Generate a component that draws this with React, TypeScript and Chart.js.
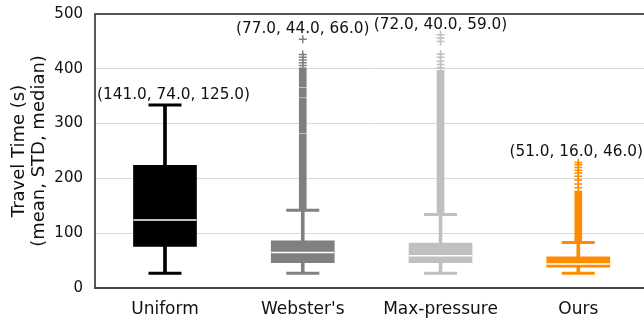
import React, { useEffect, useRef } from "react";
import { Chart, registerables } from "chart.js";

Chart.register(...registerables);

const categories = ["Uniform", "Webster's", "Max-pressure", "Ours"];
const colors = ["#000000", "#808080", "#c0c0c0", "#ff8c00"];
const whiskerLow = [27, 27, 27, 27];
const q1 = [76, 46, 46, 38];
const medians = [124, 65, 59, 44];
const q3 = [224, 86, 82, 57];
const whiskerHigh = [334, 142, 134, 83];
const outlierBands: number[][][] = [
  [],
  [[142, 281], [283, 346], [348, 365], [367, 402]],
  [[134, 397]],
  [[83, 177]],
];
const outlierPoints: number[][] = [
  [],
  [454, 426, 421, 416, 411, 406],
  [462, 456, 450, 427, 421, 414, 408, 402],
  [229, 225, 220, 215, 210, 204, 197, 190, 183],
];
const annotations = [
  "(141.0, 74.0, 125.0)",
  "(77.0, 44.0, 66.0)",
  "(72.0, 40.0, 59.0)",
  "(51.0, 16.0, 46.0)",
];
const yTicks = [0, 100, 200, 300, 400, 500];
const yTitle = ["Travel Time (s)", "(mean, STD, median)"];

const FONT = "'DejaVu Sans', sans-serif";

const overlay = {
  id: "overlay",
  afterDatasetsDraw(chart: any) {
    const { ctx, chartArea: a, scales } = chart;
    ctx.save();
    // frame
    ctx.strokeStyle = "#222222";
    ctx.lineWidth = 1.5;
    ctx.beginPath();
    ctx.moveTo(a.left, a.bottom);
    ctx.lineTo(a.left, a.top);
    ctx.lineTo(a.right, a.top);
    ctx.stroke();
    ctx.strokeStyle = "#444444";
    ctx.lineWidth = 2;
    ctx.beginPath();
    ctx.moveTo(a.left - 1, a.bottom);
    ctx.lineTo(a.right, a.bottom);
    ctx.stroke();
    // annotations
    ctx.font = `15.3px ${FONT}`;
    ctx.fillStyle = "#111111";
    ctx.textAlign = "center";
    ctx.textBaseline = "middle";
    categories.forEach((_, i) => {
      const vals = [whiskerHigh[i], ...outlierBands[i].map((b) => b[1]), ...outlierPoints[i]];
      const top = Math.max(...vals);
      const w = ctx.measureText(annotations[i]).width;
      let x = scales.x.getPixelForValue(i);
      x = Math.max(x, a.left + 2 + w / 2);
      x = Math.min(x, chart.width - 1 - w / 2);
      const y = scales.y.getPixelForValue(top) - 10;
      ctx.fillText(annotations[i], x, y);
    });
    // y title
    ctx.font = `18px ${FONT}`;
    ctx.fillStyle = "#111111";
    const cy = (a.top + a.bottom) / 2;
    yTitle.forEach((t, k) => {
      ctx.save();
      ctx.translate(19 + k * 20, cy);
      ctx.rotate(-Math.PI / 2);
      ctx.fillText(t, 0, 0);
      ctx.restore();
    });
    ctx.restore();
  },
};

export default function App() {
  const ref = useRef<HTMLCanvasElement>(null);
  useEffect(() => {
    if (!ref.current) return;
    const datasets: any[] = [];
    // whisker stems
    datasets.push({
      type: "bar",
      data: categories.map((_, i) => ({ x: i, y: [whiskerLow[i], whiskerHigh[i]] })),
      backgroundColor: colors,
      barThickness: 3,
      grouped: false,
      order: 5,
    });
    // outliers
    categories.forEach((_, i) => {
      if (!outlierBands[i].length) return;
      datasets.push({
        type: "bar",
        data: outlierBands[i].map((b) => ({ x: i, y: [b[0], b[1]] })),
        backgroundColor: colors[i],
        barThickness: 7,
        grouped: false,
        order: 6,
      });
      datasets.push({
        type: "scatter",
        data: outlierPoints[i].map((v) => ({ x: i, y: v })),
        pointStyle: "cross",
        pointRadius: 4,
        pointBorderWidth: 1.5,
        pointBorderColor: colors[i],
        pointBackgroundColor: colors[i],
        clip: false,
        order: 6,
      });
    });
    // caps
    datasets.push({
      type: "scatter",
      data: categories.flatMap((_, i) => [
        { x: i, y: whiskerLow[i] },
        { x: i, y: whiskerHigh[i] },
      ]),
      pointStyle: "line",
      pointRadius: 16.5,
      pointBorderWidth: 3,
      pointBorderColor: categories.flatMap((_, i) => [colors[i], colors[i]]),
      clip: false,
      order: 4,
    });
    // boxes
    datasets.push({
      type: "bar",
      data: categories.map((_, i) => ({ x: i, y: [q1[i], q3[i]] })),
      backgroundColor: colors,
      barThickness: 63,
      grouped: false,
      order: 2,
    });
    // medians
    datasets.push({
      type: "scatter",
      data: categories.map((_, i) => ({ x: i, y: medians[i] })),
      pointStyle: "line",
      pointRadius: 31.5,
      pointBorderWidth: 1.5,
      pointBorderColor: "#ffffff",
      clip: false,
      order: 1,
    });

    const chart = new Chart(ref.current, {
      type: "bar",
      data: { datasets },
      plugins: [overlay],
      options: {
        animation: false,
        responsive: false,
        events: [],
        layout: { autoPadding: false, padding: { top: 14, right: 0, left: 0, bottom: 0 } },
        plugins: { legend: { display: false }, tooltip: { enabled: false } },
        scales: {
          x: {
            type: "linear",
            offset: false,
            min: -0.508,
            max: 3.477,
            grid: { display: false },
            border: { display: false },
            afterBuildTicks: (s: any) => {
              s.ticks = categories.map((_, i) => ({ value: i }));
            },
            afterFit: (s: any) => {
              s.height = 32;
              s.paddingLeft = 0;
              s.paddingRight = 0;
            },
            ticks: {
              padding: 3,
              color: "#111111",
              font: { family: FONT, size: 17 },
              autoSkip: false,
              maxRotation: 0,
              callback: (v: any) => categories[v as number] ?? "",
            },
          },
          y: {
            type: "linear",
            min: 0,
            max: 500,
            grid: { color: "#d9d9d9", lineWidth: 1, drawTicks: false },
            border: { display: false },
            afterBuildTicks: (s: any) => {
              s.ticks = yTicks.map((v) => ({ value: v }));
            },
            afterFit: (s: any) => {
              s.width = 95;
              s.paddingTop = 0;
              s.paddingBottom = 0;
            },
            ticks: {
              padding: 12,
              color: "#111111",
              font: { family: FONT, size: 15 },
            },
          },
        },
      },
    });
    return () => chart.destroy();
  }, []);
  return (
    <div style={{ position: "absolute", left: 0, top: 0, width: 644, height: 320, background: "#fff" }}>
      <canvas ref={ref} width={644} height={320} />
    </div>
  );
}
